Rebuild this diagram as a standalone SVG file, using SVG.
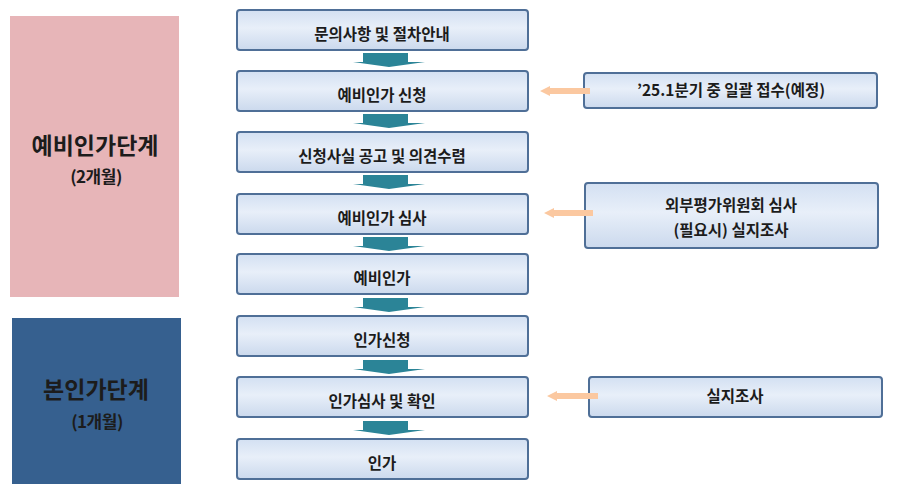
<svg xmlns="http://www.w3.org/2000/svg" width="900" height="489" viewBox="0 0 900 489">
<defs>
<linearGradient id="bg" x1="0" y1="0" x2="0" y2="1">
<stop offset="0" stop-color="#d3e0f2"/>
<stop offset="0.45" stop-color="#e8eff9"/>
<stop offset="1" stop-color="#cbd9ed"/>
</linearGradient>
<g id="down">
<path d="M-26,0 H19 V9 H36 L0,14 L-36,9 H-26 Z"/>
</g>
</defs>
<style>
.box{fill:url(#bg);stroke:#4f6f97;stroke-width:2}
.t{font-family:"Noto Sans CJK KR","Noto Sans",sans-serif;font-weight:700;font-size:15.5px;fill:#1c1c1c;text-anchor:middle}
.big{font-size:23px}
.sub{font-size:17px;letter-spacing:-0.5px}
.teal{fill:#2b8497}
.peach{fill:#fbc8a0}
</style>
<rect width="900" height="489" fill="#ffffff"/>
<g id="stage1">
<rect x="10" y="16" width="169" height="281" fill="#e7b5b8"/>
<text class="t big" x="95" y="154">예비인가단계</text>
<text class="t sub" x="96" y="183">(2개월)</text>
</g>
<g id="stage2">
<rect x="12" y="318" width="169" height="166" fill="#36608f"/>
<text class="t big" x="96" y="398">본인가단계</text>
<text class="t sub" x="97" y="428">(1개월)</text>
</g>
<g id="n1"><rect class="box" x="237" y="10" width="291" height="40" rx="3"/><text class="t" x="382" y="40">문의사항 및 절차안내</text></g>
<g id="n2"><rect class="box" x="237" y="71" width="291" height="40" rx="3"/><text class="t" x="382" y="101">예비인가 신청</text></g>
<g id="n3"><rect class="box" x="237" y="132" width="291" height="40" rx="3"/><text class="t" x="382" y="162">신청사실 공고 및 의견수렴</text></g>
<g id="n4"><rect class="box" x="237" y="194" width="291" height="40" rx="3"/><text class="t" x="382" y="224">예비인가 심사</text></g>
<g id="n5"><rect class="box" x="237" y="254" width="291" height="40" rx="3"/><text class="t" x="382" y="284">예비인가</text></g>
<g id="n6"><rect class="box" x="237" y="316" width="291" height="40" rx="3"/><text class="t" x="382" y="346">인가신청</text></g>
<g id="n7"><rect class="box" x="237" y="377" width="291" height="40" rx="3"/><text class="t" x="382" y="407">인가심사 및 확인</text></g>
<g id="n8"><rect class="box" x="237" y="439" width="291" height="40" rx="3"/><text class="t" x="382" y="469">인가</text></g>
<g id="r1"><rect class="box" x="584" y="73" width="293" height="35" rx="3"/><text class="t" x="731" y="96">’25.1분기 중 일괄 접수(예정)</text></g>
<g id="r2"><rect class="box" x="585" y="183" width="293" height="65" rx="3"/><text class="t" x="731" y="211">외부평가위원회 심사</text><text class="t" x="731" y="236">(필요시) 실지조사</text></g>
<g id="r3"><rect class="box" x="589" y="377" width="293" height="40" rx="3"/><text class="t" x="735" y="402">실지조사</text></g>
<g id="connectors">
<g class="teal">
<use href="#down" x="389" y="53"/>
<use href="#down" x="389" y="114"/>
<use href="#down" x="389" y="175"/>
<use href="#down" x="389" y="237"/>
<use href="#down" x="389" y="298"/>
<use href="#down" x="389" y="360"/>
<use href="#down" x="389" y="421"/>
</g>
<g class="peach">
<path d="M590,88 H550 V86 L540,91 L550,96 V94 H590 Z"/>
<path d="M593,210 H554 V208 L544,213 L554,218 V216 H593 Z"/>
<path d="M598,393 H557 V391 L547,396 L557,401 V399 H598 Z"/>
</g>
</g>
</svg>
